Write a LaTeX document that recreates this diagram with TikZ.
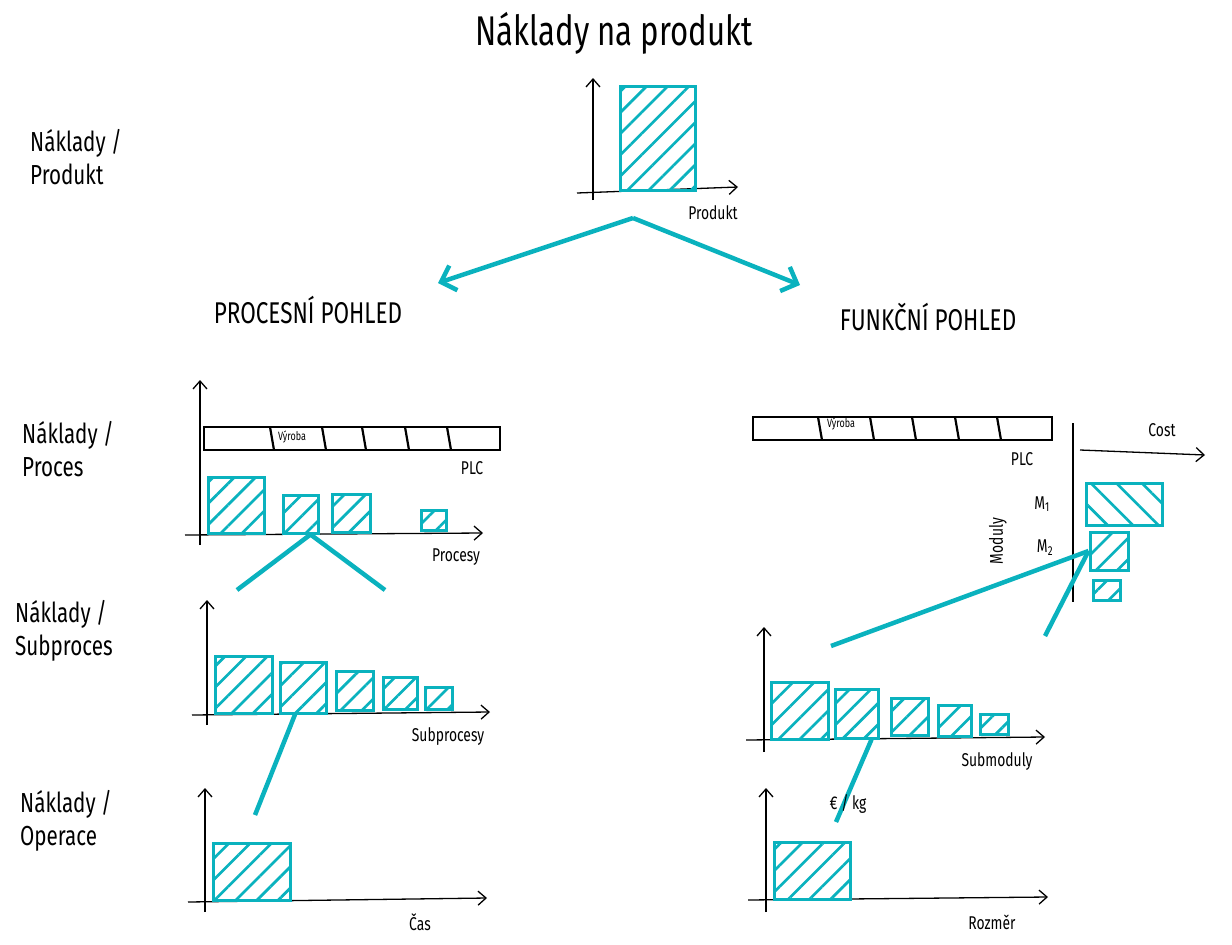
\documentclass[tikz,border=0pt]{standalone}
\usepackage{fontspec}
\setmainfont{Fira Sans}[FakeStretch=0.75]
\usetikzlibrary{positioning, arrows.meta, patterns.meta, fit}

\definecolor{sketchteal}{RGB}{10,178,190}

% cost bar from corner to corner
\newcommand{\costbar}[6][]{\node[bar, #1, fit={(#3,#4) (#5,#6)}] (#2) {};}

\begin{document}
\begin{tikzpicture}[x=1pt, y=-1pt,
        bar/.style={draw=sketchteal, line width=3pt, inner sep=0pt, pattern={Lines[angle=45, distance=15pt, line width=2.7pt]}, pattern color=sketchteal},
        axis/.style={-{Straight Barb[length=8pt, width=14pt]}, line width=1.3pt},
        link/.style={draw=sketchteal, line width=4.5pt},
        view/.style={link, -{Straight Barb[length=13pt, width=26pt]}},
        ylabel/.style={font=\fontsize{27.5}{33}\selectfont, align=left, anchor=west, inner sep=0pt},
        viewlabel/.style={font=\fontsize{30}{34}\selectfont},
        small/.style={font=\fontsize{18.5}{21}\selectfont},
        tiny/.style={font=\fontsize{12}{14}\selectfont},
        plc/.style={draw, line width=2pt, inner sep=0pt},
        divider/.style={line width=2.2pt}
    ]
    \useasboundingbox (0,0) rectangle (1232,945);

    % product
    \node[font=\fontsize{41.5}{48}\selectfont] (title) at (614,33) {Náklady na produkt};
    \node[ylabel] (lblprod) at (30,157) {Náklady /\\Produkt};
    \draw[axis] (593,200) -- (593,78);
    \draw[axis] (577,193) -- (738,187);
    \costbar{prod}{620}{86}{695}{190}
    \node[small] (prodx) at (713,213) {Produkt};

    \coordinate (split) at (633,218);
    \node[viewlabel] (proc) at (308,310) {PROCESNÍ POHLED};
    \node[viewlabel] (func) at (928,317) {FUNKČNÍ POHLED};
    \coordinate (procend) at (438,283);
    \coordinate (funcend) at (800,285);
    \draw[view] (split) -- (procend);
    \draw[view] (split) -- (funcend);

    % procesy
    \node[ylabel] (lblproc) at (22,449) {Náklady /\\Proces};
    \node[plc, fit={(204,427) (500,450)}] (plcL) {};
    \foreach \d in {270,322,362,405,447}
        \draw[divider] (\d,427) -- (\d+4,450);
    \node[tiny] (vyrL) at (292,437) {Výroba};
    \node[small] (plcLx) at (472,468) {PLC};
    \draw[axis] (200,545) -- (200,380);
    \draw[axis] (185,535) -- (483,533);
    \node[small] (procx) at (456,557) {Procesy};
    \costbar{p1}{208}{477}{264}{533}
    \costbar{p2}{283}{495}{318}{533}
    \costbar{p3}{332}{494}{370}{532}
    \costbar{p4}{421}{510}{446}{530}
    \coordinate (pL) at (237,590);
    \coordinate (pR) at (385,590);
    \draw[link] ([xshift=10pt]p2.south) -- (pL);
    \draw[link] ([xshift=10pt]p2.south) -- (pR);

    % subprocesy
    \node[ylabel] (lblsub) at (15,631) {Náklady /\\Subproces};
    \draw[axis] (207,725) -- (207,600);
    \draw[axis] (192,715) -- (490,712);
    \node[small] (subx) at (448,737) {Subprocesy};
    \costbar{s1}{215}{656}{272}{713}
    \costbar{s2}{280}{662}{326}{713}
    \costbar{s3}{336}{671}{373}{710}
    \costbar{s4}{383}{677}{417}{709}
    \costbar{s5}{425}{687}{452}{709}
    \coordinate (sEnd) at (255,815);
    \draw[link] ([xshift=-8pt]s2.south) -- (sEnd);

    % operace
    \node[ylabel] (lblop) at (20,821) {Náklady /\\Operace};
    \draw[axis] (205,912) -- (205,788);
    \draw[axis] (188,902) -- (487,898);
    \node[small] (casx) at (420,922) {Čas};
    \costbar{o1}{213}{843}{290}{900}

    % moduly
    \node[plc, fit={(753,417) (1052,440)}] (plcR) {};
    \foreach \d in {818,870,912,955,997}
        \draw[divider] (\d,417) -- (\d+4,440);
    \node[tiny] (vyrR) at (841,424) {Výroba};
    \node[small] (plcRx) at (1022,459) {PLC};
    \draw[line width=1.5pt] (1073,423) -- (1073,602);
    \draw[axis] (1080,450) -- (1205,455);
    \node[small] (costx) at (1162,430) {Cost};
    \node[small, rotate=90] (modx) at (998,541) {Moduly};
    \node[small] (m1x) at (1042,504) {M\textsubscript{1}};
    \node[small] (m2x) at (1045,548) {M\textsubscript{2}};
    \costbar[pattern={Lines[angle=-45, distance=18pt, line width=2.7pt]}]{m1}{1086}{483}{1162}{525}
    \costbar{m2}{1090}{532}{1128}{570}
    \costbar{m3}{1093}{580}{1120}{600}
    \coordinate (mA) at (831,646);
    \coordinate (mB) at (1045,636);
    \draw[link] (mA) -- (m2.west);
    \draw[link] (mB) -- (m2.west);

    % submoduly
    \draw[axis] (764,752) -- (764,627);
    \draw[axis] (746,740) -- (1045,737);
    \node[small] (smx) at (997,762) {Submoduly};
    \costbar{sm1}{771}{682}{828}{739}
    \costbar{sm2}{835}{689}{878}{738}
    \costbar{sm3}{891}{698}{928}{735}
    \costbar{sm4}{938}{705}{971}{736}
    \costbar{sm5}{980}{714}{1008}{734}
    \coordinate (smEnd) at (836,822);
    \draw[link] ([xshift=-8pt]sm2.south east) -- (smEnd);

    % rozmer
    \node[small] (kgx) at (848,804) {€ / kg};
    \draw[axis] (766,912) -- (766,788);
    \draw[axis] (748,900) -- (1048,897);
    \node[small] (rozx) at (992,922) {Rozměr};
    \costbar{r1}{774}{842}{850}{899}
\end{tikzpicture}
\end{document}
